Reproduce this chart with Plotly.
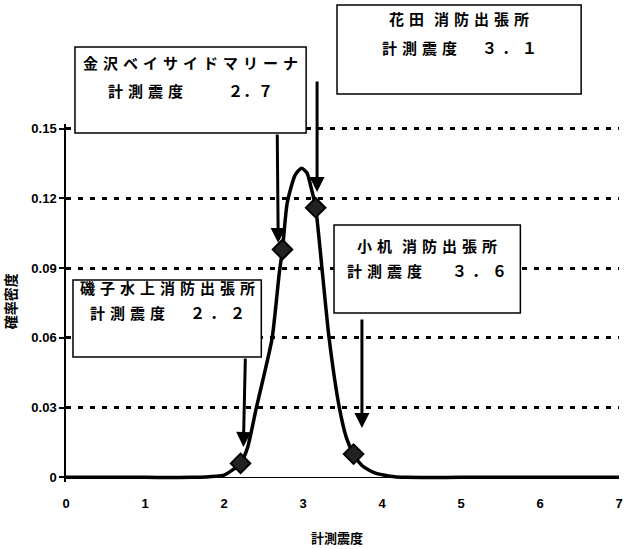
import plotly.graph_objects as go

# ---- data ----
curve_x = [0.0, 1.0, 1.6, 1.9, 2.0, 2.1, 2.21, 2.3, 2.41, 2.5, 2.61, 2.70, 2.74, 2.80, 2.9, 2.98,
           3.05, 3.10, 3.16, 3.24, 3.33, 3.46, 3.55, 3.64, 3.75, 3.9, 4.1, 4.3, 5.0, 6.0, 7.0]
curve_y = [0.0, 0.0, 0.0, 0.0005, 0.001, 0.003, 0.006, 0.013, 0.030, 0.043, 0.060, 0.088, 0.098, 0.118, 0.130, 0.133,
           0.131, 0.125, 0.116, 0.090, 0.060, 0.030, 0.017, 0.010, 0.005, 0.002, 0.0005, 0.0, 0.0, 0.0, 0.0]

station_names = ["磯子水上消防出張所", "金沢ベイサイドマリーナ", "花田 消防出張所", "小机 消防出張所"]
station_label = ["２．２", "２．７", "３．１", "３．６"]
station_x = [2.21, 2.74, 3.16, 3.64]
station_y = [0.006, 0.098, 0.116, 0.010]

x_ticks = [0, 1, 2, 3, 4, 5, 6, 7]
y_ticks = [0, 0.03, 0.06, 0.09, 0.12, 0.15]
y_tick_text = ["0", "0.03", "0.06", "0.09", "0.12", "0.15"]
x_title = "計測震度"
y_title = "確率密度"
value_prefix = "計測震度"

# ---- layout geometry (pixels) ----
W, H = 635, 549
ML, MR, MT, MB = 66, 14, 124, 67
PW, PH = W - ML - MR, H - MT - MB


def px(xp):
    return (xp - ML) / PW


def py(yp):
    return (H - MB - yp) / PH


def spaced(s, sep="\u2004"):
    out = []
    for part in s.split(" "):
        out.append(sep.join(list(part)))
    return (sep * 2).join(out)


fig = go.Figure()
fig.add_trace(go.Scatter(x=curve_x, y=curve_y, mode="lines",
                         line=dict(color="black", width=3.5, shape="spline", smoothing=0.6),
                         hoverinfo="skip", showlegend=False))
fig.add_trace(go.Scatter(x=station_x, y=station_y, mode="markers",
                         marker=dict(symbol="diamond", size=15, color="#222222",
                                     line=dict(color="black", width=2)),
                         showlegend=False, cliponaxis=False))

# boxes: (left, top, right, bottom, line1_y, line2_y, gap, digit separator)
boxes = [
    (73, 280, 262, 357, 287, 312, "\u3000\u2004\u2004", "\u2004"),
    (75, 47, 307, 133, 62, 90, "\u3000\u3000\u3000", ""),
    (338, 5, 583, 94, 18, 48, "\u3000\u2004\u2004", "\u2004"),
    (335, 225, 522, 313, 245, 270, "\u3000\u3000", "\u2004"),
]
arrows = [  # tail (x,y) -> tip (x,y)
    (246, 357, 244, 447),
    (278, 133, 279, 243),
    (318, 80, 318, 192),
    (363, 318, 363, 428),
]

shapes = []
annotations = []
tfont = dict(family="Noto Sans CJK JP", size=15, color="black", weight="bold")
for i, (l, t, r, b, y1, y2, gap, dsep) in enumerate(boxes):
    shapes.append(dict(type="rect", xref="paper", yref="paper",
                       x0=px(l), x1=px(r), y0=py(b), y1=py(t),
                       fillcolor="white", line=dict(color="black", width=1.5)))
    cx = px((l + r) / 2)
    annotations.append(dict(xref="paper", yref="paper", x=cx, y=py(y1),
                            text=spaced(station_names[i]), showarrow=False,
                            xanchor="center", yanchor="middle", font=tfont))
    annotations.append(dict(xref="paper", yref="paper", x=cx, y=py(y2),
                            text=spaced(value_prefix) + gap + dsep.join(list(station_label[i])),
                            showarrow=False, xanchor="center", yanchor="middle", font=tfont))

for (tx, ty, hx, hy) in arrows:
    annotations.append(dict(xref="paper", yref="paper", x=px(hx), y=py(hy),
                            ax=tx - hx, ay=ty - hy, text="", showarrow=True,
                            arrowhead=2, arrowsize=1, arrowwidth=3, arrowcolor="black"))

annotations.append(dict(xref="paper", yref="paper", x=px(10), y=py(301), text=y_title,
                        textangle=-90, showarrow=False, xanchor="center", yanchor="middle",
                        font=dict(family="Noto Sans CJK JP", size=14, color="black", weight="bold")))
annotations.append(dict(xref="paper", yref="paper", x=px(338), y=py(537), text=x_title,
                        showarrow=False, xanchor="center", yanchor="middle",
                        font=dict(family="Noto Sans CJK JP", size=13, color="black", weight="bold")))

fig.update_layout(
    width=W, height=H,
    margin=dict(l=ML, r=MR, t=MT, b=MB, pad=0),
    plot_bgcolor="white", paper_bgcolor="white",
    shapes=shapes, annotations=annotations,
    xaxis=dict(range=[0, 7], tickvals=x_ticks, ticktext=[str(v) for v in x_ticks],
               showgrid=False, zeroline=False, showline=False, ticks="",
               ticklabelstandoff=12,
               tickfont=dict(family="Liberation Sans", size=13, color="black", weight="bold")),
    yaxis=dict(range=[-0.002, 0.152], tickvals=y_ticks, ticktext=y_tick_text,
               showgrid=True, gridcolor="black", gridwidth=2.5, griddash="5px,7px",
               zeroline=True, zerolinecolor="black", zerolinewidth=1,
               showline=True, linecolor="black", linewidth=1.5,
               ticks="outside", ticklen=5, tickwidth=1.5, tickcolor="black",
               tickfont=dict(family="Liberation Sans", size=13, color="black", weight="bold")),
    showlegend=False,
)

fig.write_html("out.html")
